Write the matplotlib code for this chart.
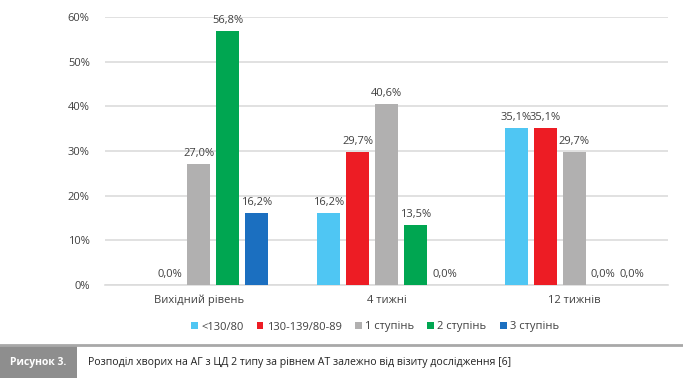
import numpy as np
import matplotlib.pyplot as plt
from matplotlib.patches import Rectangle

plt.rcParams['font.family'] = ['Open Sans', 'DejaVu Sans']

categories = ['Вихідний рівень', '4 тижні', '12 тижнів']
series = ['<130/80', '130-139/80-89', '1 ступінь', '2 ступінь', '3 ступінь']
colors = ['#4fc6f3', '#ed1c24', '#b1b0b0', '#00a651', '#1b6fc0']
values = [
    [np.nan, 16.2, 35.1],
    [0.0, 29.7, 35.1],
    [27.0, 40.6, 29.7],
    [56.8, 13.5, 0.0],
    [16.2, 0.0, 0.0],
]
caption_label = 'Рисунок 3.'
caption_text = 'Розподіл хворих на АГ з ЦД 2 типу за рівнем АТ залежно від візиту дослідження [6]'

fig = plt.figure(figsize=(6.83, 3.78), dpi=100)
ax = fig.add_axes([105/683, (378-285)/378, 563/683, 268/378])

x = np.arange(len(categories))
pitch = 0.1547
width = 0.1227
for i, (name, vals, col) in enumerate(zip(series, values, colors)):
    pos = x + (i - 2) * pitch
    ax.bar(pos, vals, width=width, color=col, label=name, zorder=3)
    for p, v in zip(pos, vals):
        if np.isnan(v):
            continue
        ax.text(p, v + 1.1, ('%.1f%%' % v).replace('.', ','), ha='center', va='bottom',
                fontsize=8, color='#404040')

ax.set_xlim(-0.5, 2.5)
ax.set_ylim(0, 60)
ax.set_yticks(np.arange(0, 61, 10))
ax.set_yticklabels(['%d%%' % t for t in range(0, 61, 10)])
ax.set_xticks(x)
ax.set_xticklabels(categories)
ax.tick_params(axis='both', length=0, labelsize=8, colors='#404040')
ax.tick_params(axis='y', pad=11)
ax.tick_params(axis='x', pad=7)
ax.grid(axis='y', color='#dcdcdc', linewidth=1.2, zorder=0)
for s in ['top', 'right', 'left']:
    ax.spines[s].set_visible(False)
ax.spines['bottom'].set_color('#dcdcdc')
ax.spines['bottom'].set_linewidth(1.2)

leg = fig.legend(loc='center', bbox_to_anchor=(375/683, (378-327)/378), ncol=5, frameon=False,
                 fontsize=8, handlelength=0.6, handleheight=0.6, handletextpad=0.3,
                 columnspacing=1.2)
for t in leg.get_texts():
    t.set_color('#404040')

# caption strip
fig.add_artist(plt.Line2D([0, 1], [(378-345)/378]*2, color='#a8a8a8', linewidth=2,
                          transform=fig.transFigure))
fig.add_artist(Rectangle((0, 0), 77/683, (378-346)/378, transform=fig.transFigure,
                         facecolor='#8e8e8e', edgecolor='none'))
fig.text(38/683, (378-362)/378, caption_label, ha='center', va='center', color='white',
         fontsize=7.5, fontweight='bold')
fig.text(88/683, (378-362)/378, caption_text, ha='left', va='center', color='#222222',
         fontsize=7.6)

fig.savefig('out.png', dpi=100)
